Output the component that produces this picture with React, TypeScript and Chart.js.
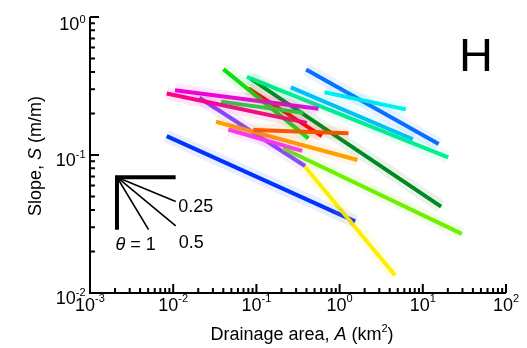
import React, { useEffect, useRef } from "react";
import { Chart, registerables } from "chart.js";

Chart.register(...registerables);

// ---- Data: channel segments (drainage area A in km², slope S in m/m) ----
// Listed in drawing order (later ones on top)
const segmentIds = [
  "orange-red", "orange", "magenta-lower", "deep-pink", "magenta-upper",
  "green-mid", "spring-green", "bright-green", "red", "dark-green",
  "cyan", "sky-blue", "dodger-blue", "lime", "yellow", "purple", "blue",
];
const areaStart = [0.092, 0.0327, 0.046, 0.00835, 0.0105, 0.0376, 0.0767, 0.0401, 0.0802, 0.084, 0.658, 0.259, 0.396, 0.209, 0.385, 0.0206, 0.00835];
const areaEnd = [1.28, 1.64, 0.355, 0.403, 0.557, 0.367, 20.2, 0.422, 0.612, 16.6, 6.26, 7.6, 15.5, 29.5, 4.65, 0.385, 1.54];
const slopeStart = [0.152, 0.174, 0.153, 0.279, 0.295, 0.243, 0.368, 0.419, 0.304, 0.359, 0.285, 0.309, 0.417, 0.112, 0.0823, 0.26, 0.137];
const slopeEnd = [0.1435, 0.092, 0.107, 0.171, 0.216, 0.202, 0.0962, 0.132, 0.137, 0.0423, 0.214, 0.13, 0.12, 0.0268, 0.0134, 0.0833, 0.033];
const segmentColors = [
  "#ff5500", "#ffa000", "#ff30ff", "#ff0088", "#f000e0",
  "#20e040", "#00f090", "#10e010", "#ff0000", "#008a20",
  "#00f0f0", "#00bbff", "#0a6eff", "#70f000", "#ffee00", "#8844ff", "#0033ff",
];

// ---- Axis ticks ----
const xDecades = [-3, -2, -1, 0, 1, 2];
const yDecades = [-2, -1, 0];
const xTickLabels = ["-3", "-2", "-1", "0", "1", "2"];
const yTickLabels = ["-2", "-1", "0"];

// ---- Inset: concavity reference slopes ----
const insetOriginA = [0.00211];
const insetOriginS = [0.069];
const insetBarEndA = [0.0107];
const insetBarEndS = [0.0287];
const insetThetas = [1, 0.5, 0.25];
const insetRunDecades = [0.38, 0.706, 0.706];
const insetLabels = ["θ = 1", "0.5", "0.25"];

const FONT = '"Liberation Sans", Arial, Helvetica, sans-serif';

function hexToRgba(hex: string, a: number) {
  const n = parseInt(hex.slice(1), 16);
  return `rgba(${(n >> 16) & 255},${(n >> 8) & 255},${n & 255},${a})`;
}

const axesPlugin = {
  id: "customAxes",
  afterDraw(chart: any) {
    const ctx = chart.ctx as CanvasRenderingContext2D;
    const xs = chart.scales.x;
    const ys = chart.scales.y;
    const { left, right, top, bottom } = chart.chartArea;
    ctx.save();
    ctx.strokeStyle = "#000";
    ctx.fillStyle = "#000";
    ctx.lineWidth = 2;
    ctx.lineJoin = "miter";
    ctx.beginPath();
    ctx.moveTo(left, top);
    ctx.lineTo(left, bottom);
    ctx.lineTo(right, bottom);
    ctx.stroke();

    // x ticks
    ctx.beginPath();
    xDecades.forEach((d, i) => {
      const x = xs.getPixelForValue(Math.pow(10, d));
      ctx.moveTo(x, bottom);
      ctx.lineTo(x, bottom - 9);
      if (i < xDecades.length - 1) {
        for (let k = 2; k <= 9; k++) {
          const xm = xs.getPixelForValue(k * Math.pow(10, d));
          ctx.moveTo(xm, bottom + 1);
          ctx.lineTo(xm, bottom - 5);
        }
      }
    });
    // y ticks
    yDecades.forEach((d, i) => {
      const y = ys.getPixelForValue(Math.pow(10, d));
      ctx.moveTo(left, y);
      ctx.lineTo(left + 9, y);
      if (i < yDecades.length - 1) {
        for (let k = 2; k <= 9; k++) {
          const ym = ys.getPixelForValue(k * Math.pow(10, d));
          ctx.moveTo(left - 1, ym);
          ctx.lineTo(left + 5, ym);
        }
      }
    });
    ctx.stroke();

    // x tick labels
    ctx.textBaseline = "alphabetic";
    ctx.textAlign = "left";
    xDecades.forEach((d, i) => {
      const x = xs.getPixelForValue(Math.pow(10, d));
      ctx.font = `18px ${FONT}`;
      const w1 = ctx.measureText("10").width;
      ctx.font = `11px ${FONT}`;
      const w2 = ctx.measureText(xTickLabels[i]).width;
      const sx = x - (w1 + w2) / 2;
      ctx.font = `18px ${FONT}`;
      ctx.fillText("10", sx, bottom + 17.5);
      ctx.font = `11px ${FONT}`;
      ctx.fillText(xTickLabels[i], sx + w1, bottom + 9);
    });
    // y tick labels
    yDecades.forEach((d, i) => {
      const y = ys.getPixelForValue(Math.pow(10, d));
      ctx.font = `18px ${FONT}`;
      const w1 = ctx.measureText("10").width;
      ctx.font = `11px ${FONT}`;
      const w2 = ctx.measureText(yTickLabels[i]).width;
      const rx = left - 4.5;
      const base = Math.max(y + 10.7, top + 13);
      ctx.font = `18px ${FONT}`;
      ctx.fillText("10", rx - w2 - w1, base);
      ctx.font = `11px ${FONT}`;
      ctx.fillText(yTickLabels[i], rx - w2, base - 7.3);
    });

    // x title: Drainage area, A (km²)
    {
      const parts: [string, string][] = [
        ["Drainage area, ", `18px ${FONT}`],
        ["A", `italic 18px ${FONT}`],
        [" (km", `18px ${FONT}`],
        ["2", `11px ${FONT}`],
        [")", `18px ${FONT}`],
      ];
      let total = 0;
      parts.forEach(([t, f]) => { ctx.font = f; total += ctx.measureText(t).width; });
      let cx = (left + right) / 2 + 4 - total / 2;
      const base = bottom + 46.5;
      parts.forEach(([t, f]) => {
        ctx.font = f;
        ctx.fillText(t, cx, t === "2" ? base - 7.5 : base);
        cx += ctx.measureText(t).width;
      });
    }
    // y title: Slope, S (m/m)
    {
      ctx.save();
      ctx.translate(41, (top + bottom) / 2 + 1);
      ctx.rotate(-Math.PI / 2);
      const parts: [string, string][] = [
        ["Slope, ", `18px ${FONT}`],
        ["S", `italic 18px ${FONT}`],
        [" (m/m)", `18px ${FONT}`],
      ];
      let total = 0;
      parts.forEach(([t, f]) => { ctx.font = f; total += ctx.measureText(t).width; });
      let cx = -total / 2;
      parts.forEach(([t, f]) => {
        ctx.font = f;
        ctx.fillText(t, cx, 0);
        cx += ctx.measureText(t).width;
      });
      ctx.restore();
    }

    // inset labels
    {
      const ox = xs.getPixelForValue(insetOriginA[0]);
      const barEndY = ys.getPixelForValue(insetBarEndS[0]);
      const endA = insetBarEndA[0];
      const ex = xs.getPixelForValue(endA);
      // 0.25
      const s025 = insetOriginS[0] * Math.pow(10, -insetThetas[2] * insetRunDecades[2]);
      ctx.font = `18px ${FONT}`;
      ctx.fillText(insetLabels[2], ex + 2.5, ys.getPixelForValue(s025) + 10);
      // 0.5
      ctx.fillText(insetLabels[1], ex + 3, barEndY + 18.5);
      // θ = 1
      ctx.font = `italic 18px ${FONT}`;
      ctx.fillText("θ", ox - 1.5, barEndY + 20);
      const wt = ctx.measureText("θ").width;
      ctx.font = `18px ${FONT}`;
      ctx.fillText(" = 1", ox - 1.5 + wt, barEndY + 20);
    }

    // panel letter
    ctx.font = `47px ${FONT}`;
    ctx.fillText("H", 459, 70.7);
    ctx.restore();
  },
};

export default function App() {
  const ref = useRef<HTMLCanvasElement>(null);
  useEffect(() => {
    document.body.style.margin = "0";
    const canvas = ref.current!;
    const datasets: any[] = [];
    // faint confidence glow
    segmentIds.forEach((id, i) => {
      datasets.push({
        label: id + "-band",
        data: [
          { x: areaStart[i], y: slopeStart[i] },
          { x: areaEnd[i], y: slopeEnd[i] },
        ],
        showLine: true,
        borderColor: hexToRgba(segmentColors[i], 0.09),
        borderWidth: 13,
        borderCapStyle: "butt",
        pointRadius: 0,
        fill: false,
      });
    });
    segmentIds.forEach((id, i) => {
      datasets.push({
        label: id,
        data: [
          { x: areaStart[i], y: slopeStart[i] },
          { x: areaEnd[i], y: slopeEnd[i] },
        ],
        showLine: true,
        borderColor: segmentColors[i],
        borderWidth: 4,
        borderCapStyle: "butt",
        pointRadius: 0,
        fill: false,
      });
    });
    // inset L-bar
    datasets.push({
      label: "inset-bar",
      data: [
        { x: insetBarEndA[0], y: insetOriginS[0] },
        { x: insetOriginA[0], y: insetOriginS[0] },
        { x: insetOriginA[0], y: insetBarEndS[0] },
      ],
      showLine: true,
      borderColor: "#000",
      borderWidth: 4,
      borderCapStyle: "butt",
      borderJoinStyle: "miter",
      pointRadius: 0,
      fill: false,
    });
    insetThetas.forEach((th, i) => {
      const endA = insetOriginA[0] * Math.pow(10, insetRunDecades[i]);
      const endS = insetOriginS[0] * Math.pow(10, -th * insetRunDecades[i]);
      datasets.push({
        label: "theta-" + th,
        data: [
          { x: insetOriginA[0], y: insetOriginS[0] },
          { x: endA, y: endS },
        ],
        showLine: true,
        borderColor: "#000",
        borderWidth: 1.6,
        pointRadius: 0,
        fill: false,
      });
    });

    const chart = new Chart(canvas, {
      type: "scatter",
      data: { datasets },
      options: {
        responsive: false,
        maintainAspectRatio: false,
        animation: false,
        layout: { padding: { left: 90, right: 21, top: 17, bottom: 55 } },
        plugins: { legend: { display: false }, tooltip: { enabled: false } },
        elements: { line: { tension: 0 }, point: { radius: 0 } },
        scales: {
          x: { type: "logarithmic", min: 1e-3, max: 1e2, display: false },
          y: { type: "logarithmic", min: 1e-2, max: 1, display: false },
        },
      },
      plugins: [axesPlugin],
    } as any);
    return () => chart.destroy();
  }, []);
  return (
    <div style={{ width: 527, height: 348, background: "#fff" }}>
      <canvas ref={ref} width={527} height={348} style={{ display: "block", width: 527, height: 348 }} />
    </div>
  );
}
